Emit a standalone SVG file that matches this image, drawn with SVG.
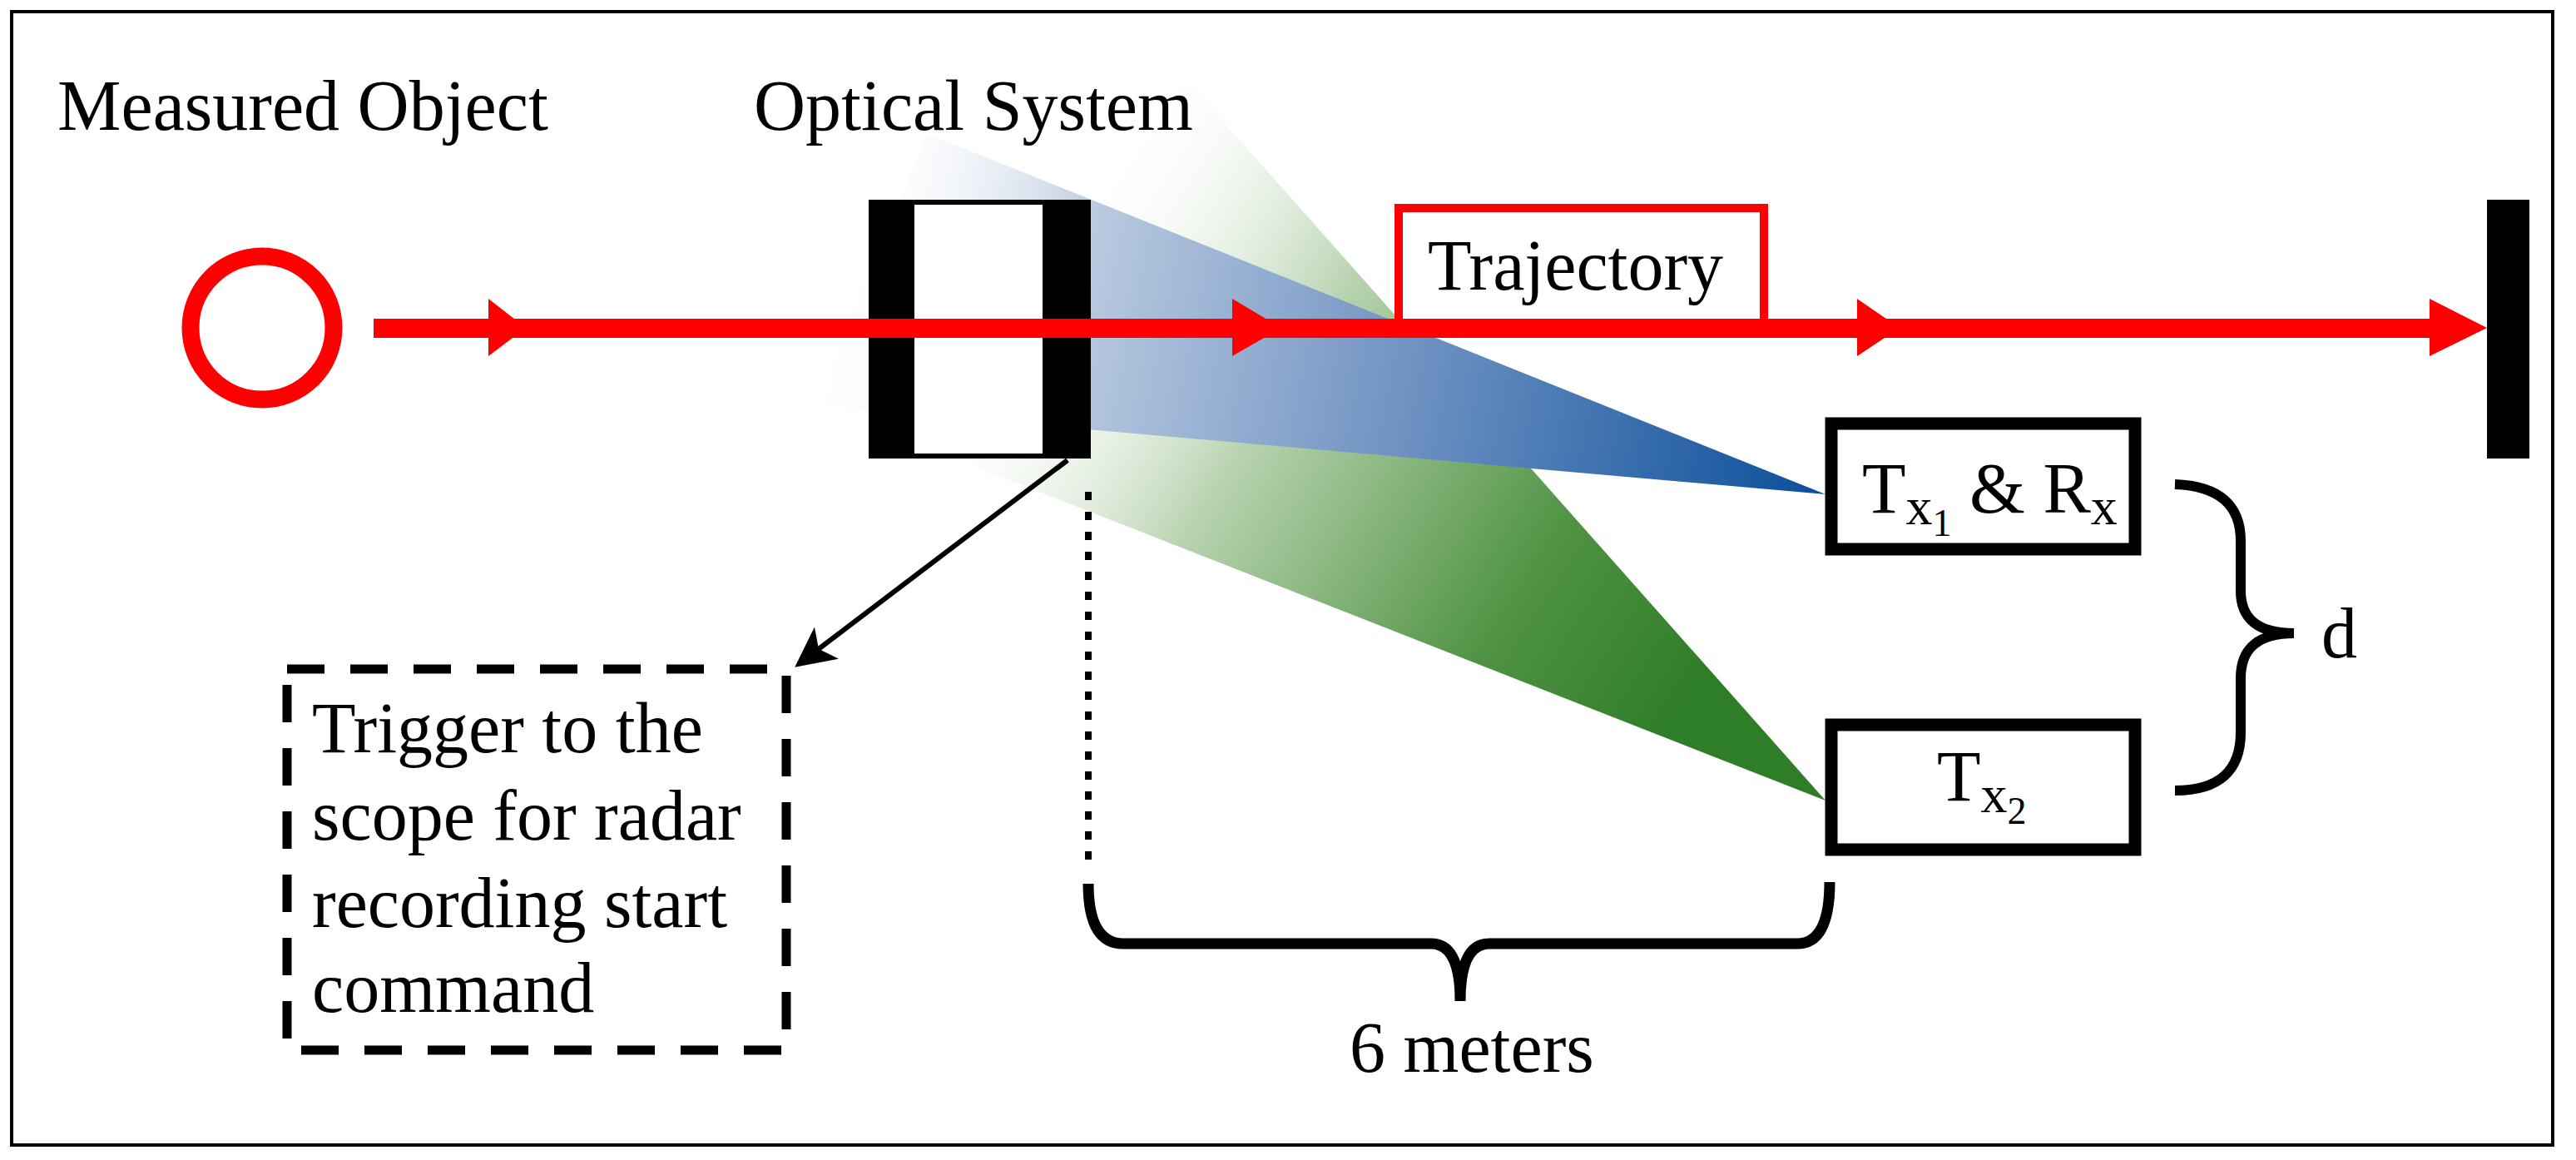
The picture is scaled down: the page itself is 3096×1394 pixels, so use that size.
<svg xmlns="http://www.w3.org/2000/svg" width="3096" height="1394" viewBox="0 0 3096 1394">
<style>
text{font-family:"Liberation Serif","Times New Roman",serif;fill:#000}
.lbl{font-size:86px}
.sub{font-size:64px}
.box{fill:#fff;stroke:#000;stroke-width:15}
.red{fill:#ff0000}
</style>
<defs>
<linearGradient id="gb" gradientUnits="userSpaceOnUse" x1="990" y1="350" x2="2194" y2="594">
<stop offset="0" stop-color="#ffffff" stop-opacity="0"/>
<stop offset="0.25" stop-color="#b9c9e0"/>
<stop offset="0.6" stop-color="#6a8fc0"/>
<stop offset="1" stop-color="#0a4e9b"/>
</linearGradient>
<linearGradient id="gg" gradientUnits="userSpaceOnUse" x1="1250" y1="300" x2="2050" y2="820">
<stop offset="0" stop-color="#ffffff" stop-opacity="0"/>
<stop offset="0.35" stop-color="#b8d3b0"/>
<stop offset="0.75" stop-color="#4f9242"/>
<stop offset="1" stop-color="#2e7d27"/>
</linearGradient>
<marker id="ah" markerWidth="8" markerHeight="8" refX="7" refY="4" orient="auto" markerUnits="strokeWidth">
<path d="M0,0 L8,4 L0,8 L2,4 z" fill="#000"/>
</marker>
</defs>
<rect x="0" y="0" width="3096" height="1394" fill="#fff"/>
<rect x="14" y="14" width="3054" height="1362" fill="none" stroke="#000" stroke-width="4"/>

<g id="beams">
<polygon points="1385,50 2194,962 1165,558" fill="url(#gg)"/>
<polygon points="1115,161 2194,594 977,487" fill="url(#gb)"/>
</g>

<g id="measured-object">
<text class="lbl" x="69" y="156">Measured Object</text>
<circle cx="315" cy="394" r="86" fill="none" stroke="#ff0000" stroke-width="21"/>
</g>

<g id="optical-system">
<text class="lbl" x="906" y="156">Optical System</text>
<rect x="1070" y="243" width="214" height="305" fill="#fff" stroke="#000" stroke-width="6"/>
<rect x="1044" y="240" width="55" height="311" fill="#000"/>
<rect x="1253" y="240" width="58" height="311" fill="#000"/>
</g>

<g id="end-bar">
<rect x="2989" y="240" width="51" height="311" fill="#000"/>
</g>

<g id="trajectory">
<polyline points="1681,395 1681,250 2120,250 2120,395" fill="#fff" stroke="#ff0000" stroke-width="10"/>
<text class="lbl" x="1716" y="348">Trajectory</text>
</g>

<g id="connectors">
<rect x="449" y="383" width="2480" height="23" class="red"/>
<polygon class="red" points="587,359 632,394 587,428"/>
<polygon class="red" points="1481,359 1540,394 1481,428"/>
<polygon class="red" points="2232,359 2283,394 2232,428"/>
<polygon class="red" points="2920,359 2989,394 2920,428"/>
<line x1="1283" y1="553" x2="960" y2="798" stroke="#000" stroke-width="6" marker-end="url(#ah)"/>
<line x1="1308" y1="591" x2="1308" y2="1036" stroke="#000" stroke-width="8" stroke-dasharray="10,14"/>
<path d="M1308,1062 Q1308,1134 1350,1134 L1720,1134 Q1755,1134 1755,1203 Q1755,1134 1790,1134 L2160,1134 Q2199,1134 2199,1060" fill="none" stroke="#000" stroke-width="13"/>
<path d="M2614,582 Q2693,585 2693,650 L2693,710 Q2693,761 2757,761 Q2693,761 2693,815 L2693,880 Q2693,950 2614,950" fill="none" stroke="#000" stroke-width="12"/>
</g>

<g id="trigger-box">
<rect x="345" y="804" width="600" height="458" fill="none" stroke="#000" stroke-width="11" stroke-dasharray="45,31"/>
<text class="lbl" x="375" y="904">Trigger to the</text>
<text class="lbl" x="375" y="1009">scope for radar</text>
<text class="lbl" x="375" y="1114">recording start</text>
<text class="lbl" x="375" y="1216">command</text>
</g>

<g id="tx1-rx">
<rect class="box" x="2201" y="509" width="365" height="151"/>
<text class="lbl" x="2238" y="616">T<tspan class="sub" dy="14">x</tspan><tspan font-size="46" dy="14">1</tspan><tspan dy="-28"> &amp; R</tspan><tspan class="sub" dy="14">x</tspan></text>
</g>

<g id="tx2">
<rect class="box" x="2201" y="871" width="365" height="150"/>
<text class="lbl" x="2328" y="962">T<tspan class="sub" dy="14">x</tspan><tspan font-size="46" dy="14">2</tspan></text>
</g>

<g id="labels">
<text class="lbl" x="2790" y="790">d</text>
<text class="lbl" x="1622" y="1288">6 meters</text>
</g>
</svg>
